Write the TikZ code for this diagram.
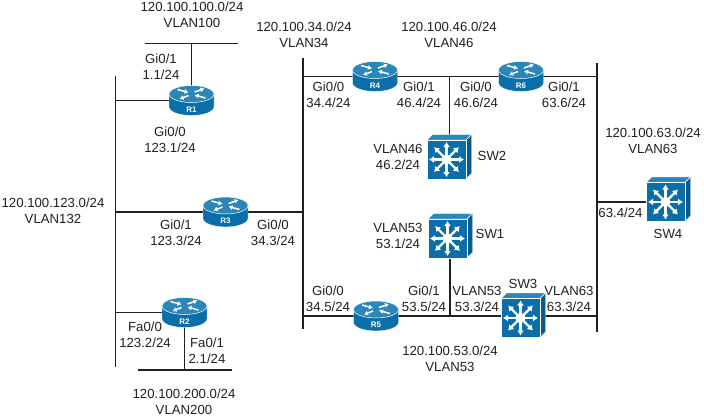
\documentclass[tikz,border=0pt]{standalone}
\usepackage{fontspec}
\setmainfont{Liberation Sans}
\usetikzlibrary{arrows.meta,calc,positioning}
\definecolor{ciscoBlue}{HTML}{0A6FA8}
\definecolor{ciscoTop}{HTML}{2C86BA}
\definecolor{ciscoSide}{HTML}{0B5C8C}
\definecolor{busInk}{HTML}{231F20}
\tikzset{
  bus/.style={draw=busInk,line width=1.6pt},
  link/.style={draw=busInk,line width=1.5pt},
  lbl/.style={text=busInk,font=\fontsize{13.2}{16.3}\selectfont,align=center,inner sep=0pt},
  anchorbox/.style={inner sep=0pt,minimum size=4pt},
  rarrow/.style={white,line width=1.5pt,-{Latex[length=4pt,width=5pt]}},
  routericon/.pic={
    \path[fill=ciscoBlue,draw=white,line width=.4pt] (-22.5,-6.5) -- (-22.5,6.5) arc[start angle=180,end angle=0,x radius=22.5,y radius=8.5] -- (22.5,-6.5) -- cycle;
    \path[fill=ciscoTop,draw=white,line width=.5pt] (0,-6.5) ellipse[x radius=22.5,y radius=8.5];
    \draw[rarrow] (-14,-11) -- (-3,-8);
    \draw[rarrow] (3,-8.5) -- (13,-12);
    \draw[rarrow] (14,-2.5) -- (3,-5.5);
    \draw[rarrow] (-3,-5) -- (-12,-1.5);
    \node[white,font=\fontsize{8}{9}\selectfont\bfseries,inner sep=0pt] at (0,9) {\tikzpictext};
  },
  switchicon/.pic={
    \path[fill=ciscoTop,draw=white,line width=.4pt] (-19.5,-19.5) -- (-14,-25) -- (25,-25) -- (19.5,-19.5) -- cycle;
    \path[fill=ciscoSide,draw=white,line width=.4pt] (19.5,-19.5) -- (25,-25) -- (25,14) -- (19.5,19.5) -- cycle;
    \path[fill=ciscoBlue,draw=white,line width=.4pt] (-19.5,-19.5) rectangle (19.5,19.5);
    \fill[white] (0,0) circle (5);
    \foreach \ang in {0,45,...,315}{
      \draw[white,line width=2.2pt,-{Latex[length=5pt,width=7pt]}] (0,0) -- ++(\ang:17.5);
    }
  }
}
\begin{document}
\begin{tikzpicture}[x=1pt,y=-1pt,>=Latex,line cap=butt]
\useasboundingbox (0,0) rectangle (704,418);
% devices
\node[anchorbox] (R1) at (191.5,100.5) {};
\node[anchorbox] (R2) at (184.5,312.5) {};
\node[anchorbox] (R3) at (225.5,212) {};
\node[anchorbox] (R4) at (375,76.5) {};
\node[anchorbox] (R5) at (376,316) {};
\node[anchorbox] (R6) at (521,76.5) {};
\node[anchorbox] (SW1) at (447.5,238.5) {};
\node[anchorbox] (SW2) at (446.5,159.5) {};
\node[anchorbox] (SW3) at (520.5,318) {};
\node[anchorbox] (SW4) at (665.5,202) {};
% bus ends
\coordinate (b100l) at (145,43.5); \coordinate (b100r) at (238,43.5);
\coordinate (b123t) at (115.5,76); \coordinate (b123b) at (115.5,367);
\coordinate (b34t) at (303,58); \coordinate (b34b) at (303,329);
\coordinate (b63t) at (597,63); \coordinate (b63b) at (597,332);
\coordinate (b200l) at (138,370); \coordinate (b200r) at (232,370);
\coordinate (SW1up) at ($(SW1)+(2.5,0)$); \coordinate (SW2up) at ($(SW2)+(3,0)$);
\draw[bus] (b100l) -- (b100r);
\draw[bus] (b123t) -- (b123b);
\draw[bus] (b34t) -- (b34b);
\draw[bus] (b63t) -- (b63b);
\draw[bus] (b200l) -- (b200r);
% links
\draw[link] (R1) -- (R1 |- b100l);
\draw[link] (R1) -- (b123t |- R1);
\draw[link] (R3) -- (b123t |- R3);
\draw[link] (R3) -- (b34t |- R3);
\draw[link] (R2) -- (b123t |- R2);
\draw[link] (R2) -- (R2 |- b200l);
\draw[link] (R4) -- (b34t |- R4);
\draw[link] (R4) -- (R6);
\draw[link] (R6) -- (b63t |- R6);
\draw[link] (SW2up) -- (SW2up |- R4);
\draw[link] (R5) -- (b34t |- R5);
\draw[link] (R5) -- (b63t |- R5);
\draw[link] (SW1up) -- (SW1up |- R5);
\draw[link] (SW4) -- (b63t |- SW4);
% icons
\pic[pic text=R1] at (R1) {routericon};
\pic[pic text=R2] at (R2) {routericon};
\pic[pic text=R3] at (R3) {routericon};
\pic[pic text=R4] at (R4) {routericon};
\pic[pic text=R5] at (R5) {routericon};
\pic[pic text=R6] at (R6) {routericon};
\pic at (SW1) {switchicon};
\pic at (SW2) {switchicon};
\pic at (SW3) {switchicon};
\pic at (SW4) {switchicon};
% labels
\node[lbl] (t100) at (192,15) {120.100.100.0/24\\VLAN100};
\node[lbl] (t34) at (304,35) {120.100.34.0/24\\VLAN34};
\node[lbl] (t46) at (449,35) {120.100.46.0/24\\VLAN46};
\node[lbl] (t63) at (653,141) {120.100.63.0/24\\VLAN63};
\node[lbl] (t123) at (53,211) {120.100.123.0/24\\VLAN132};
\node[lbl] (t53) at (450,358.5) {120.100.53.0/24\\VLAN53};
\node[lbl] (t200) at (184,402) {120.100.200.0/24\\VLAN200};
\node[lbl] (i1a) at (161,66.5) {Gi0/1\\1.1/24};
\node[lbl] (i1b) at (170,139.5) {Gi0/0\\123.1/24};
\node[lbl] (i3a) at (176,232.5) {Gi0/1\\123.3/24};
\node[lbl] (i3b) at (273,232.5) {Gi0/0\\34.3/24};
\node[lbl] (i2a) at (145,335) {Fa0/0\\123.2/24};
\node[lbl] (i2b) at (207,350.5) {Fa0/1\\2.1/24};
\node[lbl] (i4a) at (328.5,95) {Gi0/0\\34.4/24};
\node[lbl] (i4b) at (419,95) {Gi0/1\\46.4/24};
\node[lbl] (i6a) at (476,95) {Gi0/0\\46.6/24};
\node[lbl] (i6b) at (564,95) {Gi0/1\\63.6/24};
\node[lbl] (i5a) at (328,299) {Gi0/0\\34.5/24};
\node[lbl] (i5b) at (424,299) {Gi0/1\\53.5/24};
\node[lbl] (v46) at (398,157) {VLAN46\\46.2/24};
\node[lbl] (v531) at (398,236) {VLAN53\\53.1/24};
\node[lbl] (v533) at (477,299) {VLAN53\\53.3/24};
\node[lbl] (v63) at (569,299) {VLAN63\\63.3/24};
\node[lbl] (i4s) at (620.5,213) {63.4/24};
\node[lbl] (s1) at (490,234) {SW1};
\node[lbl] (s2) at (492,156) {SW2};
\node[lbl] (s3) at (523,284) {SW3};
\node[lbl] (s4) at (668,234) {SW4};
\end{tikzpicture}
\end{document}
